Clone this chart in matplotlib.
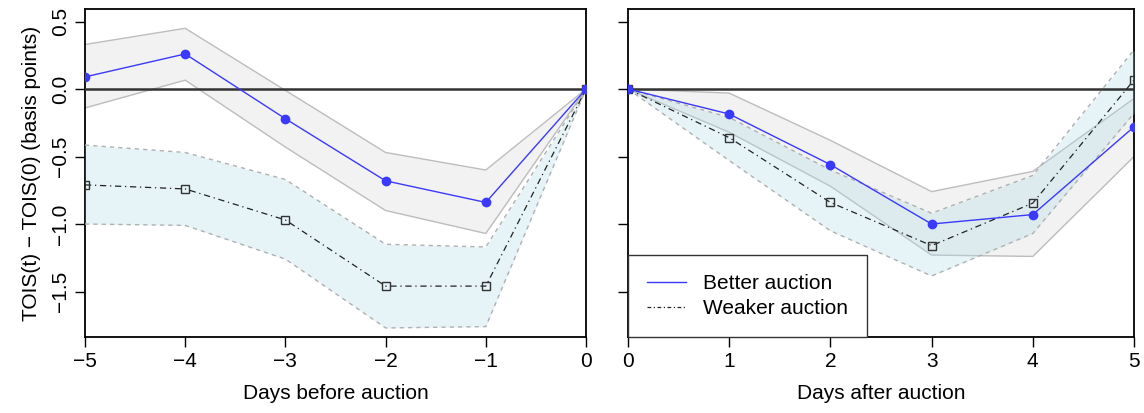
import numpy as np
import matplotlib.pyplot as plt
from matplotlib.lines import Line2D

plt.rcParams['font.family'] = ['Liberation Sans', 'DejaVu Sans']

# days before auction (left panel)
days_before = [-5, -4, -3, -2, -1, 0]
better_before = [0.09, 0.26, -0.22, -0.68, -0.84, 0.0]
better_before_hi = [0.33, 0.45, -0.01, -0.47, -0.60, 0.0]
better_before_lo = [-0.14, 0.066, -0.43, -0.90, -1.07, 0.0]
weaker_before = [-0.71, -0.74, -0.97, -1.46, -1.46, 0.0]
weaker_before_hi = [-0.415, -0.47, -0.67, -1.15, -1.17, 0.0]
weaker_before_lo = [-1.0, -1.01, -1.26, -1.77, -1.76, 0.0]

# days after auction (right panel)
days_after = [0, 1, 2, 3, 4, 5]
better_after = [0.0, -0.185, -0.56, -1.0, -0.93, -0.28]
better_after_hi = [0.0, -0.03, -0.38, -0.76, -0.61, -0.07]
better_after_lo = [0.0, -0.32, -0.72, -1.23, -1.24, -0.50]
weaker_after = [0.0, -0.36, -0.84, -1.16, -0.845, 0.067]
weaker_after_hi = [0.0, -0.21, -0.60, -0.92, -0.64, 0.29]
weaker_after_lo = [0.0, -0.53, -1.05, -1.385, -1.07, -0.18]

yticks = [-1.5, -1.0, -0.5, 0.0, 0.5]
ytick_labels = ['\u22121.5', '\u22121.0', '\u22120.5', '0.0', '0.5']

fig = plt.figure(figsize=(11.44, 4.13), dpi=100)
ax1 = fig.add_axes([85/1144, 76/413, 501/1144, 328/413])
ax2 = fig.add_axes([628/1144, 76/413, 506/1144, 328/413])

blue = '#3a3aff'
fs = 15


def panel(ax, x, b, bhi, blo, w, whi, wlo):
    ax.fill_between(x, blo, bhi, color='#f2f2f2', lw=0, zorder=1)
    ax.plot(x, bhi, color='#bdbdbd', lw=1, zorder=2)
    ax.plot(x, blo, color='#bdbdbd', lw=1, zorder=2)
    ax.fill_between(x, wlo, whi, color='#add8e6', alpha=0.3, lw=0, zorder=3)
    ax.plot(x, whi, color='#b0b0b0', lw=1, ls=(0, (3, 3)), zorder=4)
    ax.plot(x, wlo, color='#b0b0b0', lw=1, ls=(0, (3, 3)), zorder=4)
    ax.axhline(0, color='#333333', lw=1.8, zorder=5)
    ax.plot(x, b, color=blue, lw=1, marker='o', ms=6, mfc=blue, mec=blue,
            zorder=7, label='Better auction')
    ax.plot(x, w, color='#222222', lw=0.9, ls=(0, (5, 3, 1, 3)), marker='s', ms=6,
            mfc='none', mec='#333333', mew=1, zorder=6, label='Weaker auction')
    ax.set_ylim(-1.837, 0.593)
    ax.set_yticks(yticks)
    for s in ax.spines.values():
        s.set_linewidth(1.3)
    ax.tick_params(length=7, width=1, labelsize=fs, pad=4)


panel(ax1, days_before, better_before, better_before_hi, better_before_lo,
      weaker_before, weaker_before_hi, weaker_before_lo)
panel(ax2, days_after, better_after, better_after_hi, better_after_lo,
      weaker_after, weaker_after_hi, weaker_after_lo)

ax1.set_xlim(-5, 0)
ax1.set_xticks(days_before)
ax1.set_xticklabels(['\u22125', '\u22124', '\u22123', '\u22122', '\u22121', '0'])
ax1.set_yticklabels(ytick_labels, rotation=90, va='center')
ax1.set_xlabel('Days before auction', fontsize=fs, labelpad=9)
ax1.set_ylabel('TOIS(t) \u2212 TOIS(0) (basis points)', fontsize=fs, labelpad=7)

ax2.set_xlim(0, 5)
ax2.set_xticks(days_after)
ax2.set_yticklabels([])
ax2.set_xlabel('Days after auction', fontsize=fs, labelpad=9)

labels = ['Better auction', 'Weaker auction']
leg_lines = [Line2D([], [], color=blue, lw=1),
             Line2D([], [], color='#222222', lw=0.9, ls=(0, (3, 2, 1, 2)))]
leg = ax2.legend(leg_lines, labels, loc='lower left', bbox_to_anchor=(0, 0),
                 borderaxespad=0, fancybox=False, framealpha=1, edgecolor='#333333',
                 fontsize=fs, handlelength=1.9, handletextpad=0.8,
                 borderpad=0.9, labelspacing=0.3)
leg.get_frame().set_linewidth(1)
leg.set_zorder(10)

fig.savefig('out.png', dpi=100)
